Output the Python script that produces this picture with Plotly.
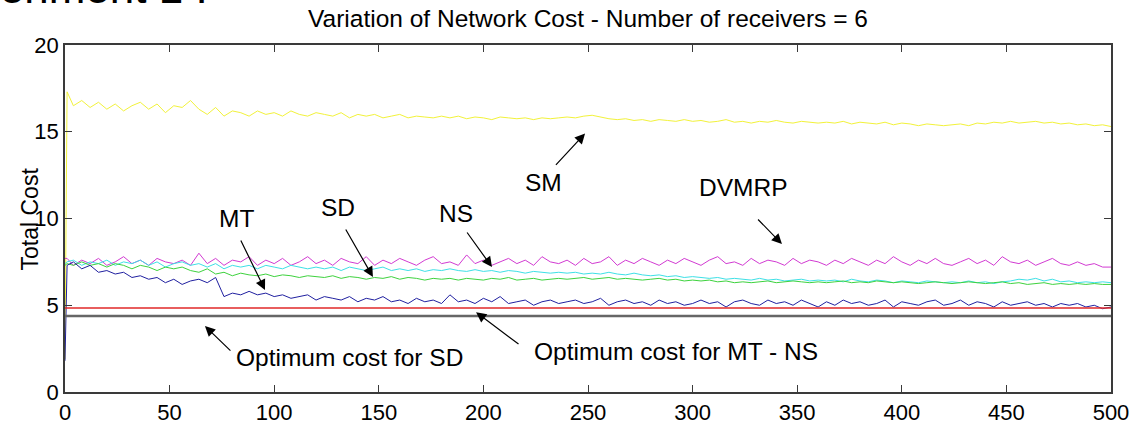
import plotly.graph_objects as go

# x positions of samples (simulation steps)
steps = [0, 1] + list(range(4, 501, 4))

sm = [1.9, 17.3,
      16.5, 16.8, 16.4, 16.7, 16.3, 16.6, 16.2, 16.5, 16.7, 16.3, 16.6, 16.1, 16.5, 16.4, 16.8,
      16.3, 16.0, 16.4, 15.9, 16.2, 16.1, 15.9, 16.2, 16.0, 16.1, 15.9, 16.2, 16.0, 15.9, 16.1,
      16.0, 15.9, 16.1, 15.8, 16.0, 15.9, 16.0, 15.8, 15.9, 16.0, 15.8, 15.9, 15.85, 15.8, 15.9,
      15.8, 15.9, 15.75, 15.85, 15.8, 15.7, 15.85, 15.8, 15.75, 15.8, 15.7, 15.8, 15.75, 15.8, 15.85,
      15.8, 15.9, 15.95, 15.85, 15.75, 15.7, 15.75, 15.65, 15.7, 15.6, 15.7, 15.65, 15.6, 15.7, 15.6,
      15.65, 15.55, 15.6, 15.7, 15.55, 15.6, 15.5, 15.6, 15.55, 15.65, 15.55, 15.5, 15.6, 15.55, 15.5,
      15.55, 15.5, 15.6, 15.45, 15.55, 15.5, 15.45, 15.55, 15.4, 15.5, 15.45, 15.35, 15.45, 15.4, 15.35,
      15.4, 15.45, 15.35, 15.5, 15.45, 15.55, 15.5, 15.6, 15.5, 15.55, 15.6, 15.5, 15.55, 15.45, 15.5,
      15.4, 15.45, 15.35, 15.4, 15.3]

dvmrp = [7.7, 7.7,
         7.3, 7.6, 7.4, 7.7, 7.3, 7.5, 7.8, 7.4, 7.6, 7.3, 7.7, 7.5, 7.4, 7.6, 7.3,
         8.0, 7.4, 7.7, 7.3, 7.6, 7.5, 7.8, 7.3, 7.6, 7.4, 7.7, 7.3, 7.5, 7.8, 7.4,
         7.6, 7.3, 7.7, 7.5, 7.4, 7.8, 7.3, 7.6, 7.4, 7.7, 7.5, 7.3, 7.6, 7.8, 7.4,
         7.5, 7.3, 7.9, 7.4, 7.6, 7.3, 7.5, 7.7, 7.4, 7.6, 7.3, 7.8, 7.5, 7.4, 7.6,
         7.3, 7.7, 7.4, 7.5, 7.8, 7.3, 7.6, 7.4, 7.7, 7.5, 7.3, 7.6, 7.4, 7.7, 7.5,
         7.3, 7.6, 7.8, 7.4, 7.5, 7.3, 7.7, 7.4, 7.6, 7.5, 7.3, 7.7, 7.4, 7.6, 7.5,
         7.3, 7.6, 7.4, 7.7, 7.5, 7.3, 7.6, 7.4, 7.8, 7.5, 7.3, 7.6, 7.4, 7.7, 7.4,
         7.3, 7.5, 7.7, 7.4, 7.6, 7.3, 7.8, 7.5, 7.4, 7.6, 7.3, 7.5, 7.7, 7.4, 7.3,
         7.5, 7.3, 7.4, 7.2, 7.2]

ns = [7.4, 7.5,
      7.6, 7.3, 7.5, 7.4, 7.6, 7.3, 7.5, 7.4, 7.6, 7.3, 7.5, 7.2, 7.4, 7.5, 7.3,
      7.4, 7.2, 7.4, 7.1, 7.3, 7.2, 7.3, 7.1, 7.3, 7.2, 7.1, 7.3, 7.2, 7.1, 7.2,
      7.1, 7.2, 7.0, 7.2, 7.1, 7.0, 7.1, 7.2, 7.0, 7.1, 7.0, 7.1, 6.95, 7.05, 7.0,
      7.1, 7.0, 6.95, 7.05, 6.95, 7.0, 6.9, 7.0, 6.95, 6.85, 6.95, 6.9, 6.85, 6.9, 6.85,
      6.9, 6.8, 6.85, 6.8, 6.9, 6.8, 6.75, 6.85, 6.75, 6.7, 6.75, 6.65, 6.7, 6.6, 6.65,
      6.6, 6.55, 6.6, 6.5, 6.55, 6.5, 6.45, 6.55, 6.45, 6.5, 6.4, 6.45, 6.5, 6.4, 6.45,
      6.4, 6.45, 6.35, 6.5, 6.4, 6.35, 6.45, 6.4, 6.3, 6.4, 6.35, 6.3, 6.4, 6.35, 6.3,
      6.35, 6.3, 6.4, 6.3, 6.35, 6.25, 6.35, 6.4, 6.5, 6.45, 6.55, 6.4, 6.5, 6.35, 6.4,
      6.3, 6.35, 6.3, 6.35, 6.3]

sd = [7.3, 7.4,
      7.3, 7.5, 7.3, 7.4, 7.2, 7.4, 7.3, 7.1, 7.3, 7.2, 7.0, 7.2, 7.1, 7.2, 7.0,
      6.9, 7.1, 6.8, 6.9, 6.7, 6.85, 6.75, 6.7, 6.8, 6.65, 6.75, 6.7, 6.6, 6.7, 6.65,
      6.6, 6.7, 6.55, 6.65, 6.6, 6.5, 6.6, 6.55, 6.65, 6.5, 6.6, 6.55, 6.45, 6.55, 6.5,
      6.55, 6.45, 6.55, 6.5, 6.45, 6.55, 6.5, 6.6, 6.45, 6.5, 6.55, 6.45, 6.5, 6.55, 6.5,
      6.55, 6.6, 6.5, 6.55, 6.6, 6.5, 6.55, 6.5, 6.45, 6.5, 6.55, 6.45, 6.5, 6.4, 6.45,
      6.4, 6.45, 6.35, 6.4, 6.3, 6.35, 6.3, 6.35, 6.4, 6.3, 6.35, 6.4, 6.35, 6.3, 6.35,
      6.3, 6.35, 6.4, 6.3, 6.35, 6.3, 6.4, 6.35, 6.3, 6.35, 6.3, 6.25, 6.3, 6.35, 6.3,
      6.25, 6.3, 6.35, 6.3, 6.25, 6.3, 6.35, 6.25, 6.3, 6.2, 6.25, 6.3, 6.2, 6.25, 6.2,
      6.25, 6.2, 6.25, 6.2, 6.2]

mt = [1.8, 7.3,
      7.5, 7.1, 7.3, 6.9, 7.0, 6.8, 6.9, 6.6, 6.7, 6.5, 6.6, 6.3, 6.5, 6.2, 6.4,
      6.5, 6.3, 6.6, 5.5, 5.7, 5.6, 5.8, 5.6, 5.7, 5.5, 5.6, 5.4, 5.5, 5.6, 5.3,
      5.5, 5.4, 5.3, 5.5, 5.2, 5.4, 5.3, 5.5, 5.2, 5.3, 5.1, 5.4, 5.2, 5.3, 5.1,
      5.6, 5.2, 5.3, 5.1, 5.4, 5.2, 5.5, 5.1, 5.2, 5.3, 5.0, 5.2, 5.3, 5.1, 5.2,
      5.3, 5.1, 5.2, 5.4, 5.0, 5.2, 5.3, 5.1, 5.2, 5.0, 5.3, 5.1, 5.2, 5.0, 5.1,
      5.3, 5.1, 5.2, 4.9, 5.2, 5.3, 5.1, 5.0, 5.3, 5.1, 5.2, 5.0, 5.3, 5.1, 4.9,
      5.2, 5.0, 5.3, 5.1, 5.2, 5.0, 5.1, 5.3, 4.9, 5.2, 5.1, 5.0, 5.2, 5.3, 5.0,
      5.1, 5.3, 5.0, 5.2, 5.1, 4.9, 5.2, 5.0, 5.1, 5.2, 5.0, 5.1, 4.9, 5.1, 5.0,
      5.1, 4.9, 5.0, 4.8, 4.9]

opt_x = [0, 500]
opt_mt_ns = [4.84, 4.84]
opt_sd = [4.38, 4.38]

x_ticks = [0, 50, 100, 150, 200, 250, 300, 350, 400, 450, 500]
y_ticks = [0, 5, 10, 15, 20]

title_text = "Variation of Network Cost - Number of receivers = 6"
y_label = "Total Cost"

FONT = "Liberation Sans, Arial, sans-serif"

fig = go.Figure()
fig.add_trace(go.Scatter(x=steps, y=sm, mode="lines", line=dict(color="#f2f23a", width=1), name="SM"))
fig.add_trace(go.Scatter(x=steps, y=dvmrp, mode="lines", line=dict(color="#d23ad2", width=1), name="DVMRP"))
fig.add_trace(go.Scatter(x=steps, y=ns, mode="lines", line=dict(color="#3ee0e6", width=1), name="NS"))
fig.add_trace(go.Scatter(x=steps, y=sd, mode="lines", line=dict(color="#3ed23e", width=1), name="SD"))
fig.add_trace(go.Scatter(x=steps, y=mt, mode="lines", line=dict(color="#2020a0", width=1), name="MT"))
fig.add_trace(go.Scatter(x=opt_x, y=opt_mt_ns, mode="lines", line=dict(color="#e02828", width=1.5), name="Optimum MT-NS"))
fig.add_trace(go.Scatter(x=opt_x, y=opt_sd, mode="lines", line=dict(color="#666666", width=2.5), name="Optimum SD"))

labels = [
    ("SM", 228.5, 12.05),
    ("DVMRP", 324.1, 11.76),
    ("MT", 82.2, 10.0),
    ("SD", 130.5, 10.66),
    ("NS", 186.9, 10.3),
    ("Optimum cost for SD", 135.8, 1.96),
    ("Optimum cost for MT - NS", 292.1, 2.31),
]
arrows = [
    (234.0, 13.0, 248.6, 14.9),
    (330.6, 10.03, 342.7, 8.53),
    (83.7, 8.82, 95.6, 5.88),
    (133.8, 9.45, 147.2, 6.63),
    (191.7, 9.28, 204.1, 7.2),
    (79.8, 2.3, 66.9, 3.8),
    (217.5, 2.7, 196.5, 4.6),
]

annotations = []
for t, lx, ly in labels:
    annotations.append(dict(x=lx, y=ly, xref="x", yref="y", text=t, showarrow=False,
                            font=dict(family=FONT, size=24.5, color="#000")))
for tx, ty, hx, hy in arrows:
    annotations.append(dict(x=hx, y=hy, ax=tx, ay=ty, xref="x", yref="y", axref="x", ayref="y",
                            text="", showarrow=True, arrowhead=2, arrowsize=1.7, arrowwidth=1.2,
                            arrowcolor="#000", standoff=0, startstandoff=0))
annotations.append(dict(x=-0.0335, y=0.5, xref="paper", yref="paper", text=y_label, textangle=-90,
                        xanchor="center", yanchor="middle",
                        showarrow=False, font=dict(family=FONT, size=23, color="#000")))
annotations.append(dict(x=0.1386, y=1.089, xref="paper", yref="paper", text="Experiment 1 :",
                        xanchor="right", yanchor="bottom", showarrow=False,
                        font=dict(family=FONT, size=44, color="#000")))

axis_common = dict(showline=True, mirror="ticks", linecolor="#3a3a3a", linewidth=1.5,
                   ticks="inside", ticklen=7, tickcolor="#3a3a3a", tickwidth=1.2,
                   showgrid=False, zeroline=False, automargin=False,
                   tickfont=dict(family=FONT, size=22, color="#000"))

fig.update_layout(
    width=1134, height=424,
    margin=dict(l=65, r=23, t=45, b=32, autoexpand=False),
    paper_bgcolor="white", plot_bgcolor="white",
    showlegend=False,
    title=dict(text=title_text, x=0.5, xref="paper", xanchor="center",
               y=1 - 18 / 424, yanchor="middle", yref="container",
               font=dict(family=FONT, size=24.5, color="#000")),
    xaxis=dict(range=[0, 500], tickvals=x_ticks, **axis_common),
    yaxis=dict(range=[0, 20], tickvals=y_ticks, **axis_common),
    annotations=annotations,
)

fig.write_html("out.html")
